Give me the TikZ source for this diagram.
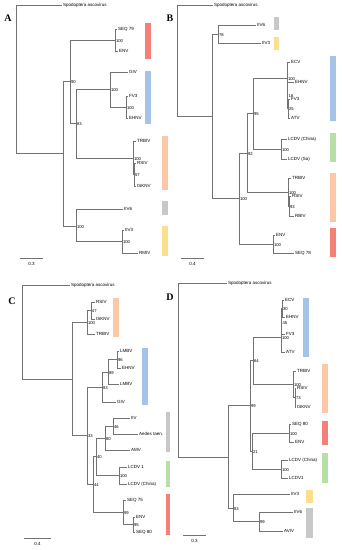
\documentclass[tikz,border=0pt]{standalone}
\usepackage{fontspec}
\setmainfont{Liberation Sans}
\newfontfamily\panelfont{Liberation Serif}
\usetikzlibrary{positioning}
\definecolor{cred}{RGB}{245,128,120}
\definecolor{cblue}{RGB}{165,195,232}
\definecolor{cpeach}{RGB}{252,200,168}
\definecolor{cgrey}{RGB}{200,200,200}
\definecolor{cyel}{RGB}{250,224,140}
\definecolor{cgreen}{RGB}{182,224,165}

\begin{document}
\begin{tikzpicture}[x=1pt,y=-1pt,
  br/.style={draw=black!55,line width=0.55pt},
  leaf/.style={anchor=west,inner sep=1pt,font=\fontsize{4.5}{5}\selectfont},
  bs/.style={anchor=west,inner sep=0.8pt,yshift=-1pt,font=\fontsize{4.2}{5}\selectfont},
  panel/.style={font=\panelfont\bfseries\fontsize{10}{12}\selectfont,inner sep=0pt},
  sc/.style={font=\fontsize{4.5}{5}\selectfont,inner sep=0pt}
]
\useasboundingbox (0,0) rectangle (341,550);

% panel A
\node[panel] (lA) at (8,18) {A};
\coordinate (aR) at (16,79.5);
\coordinate (a1) at (63,153.5);
\coordinate (a2) at (70,81);
\coordinate (a3) at (76,226);
\coordinate (a4) at (115,40);
\coordinate (a5) at (76,123.5);
\coordinate (a6) at (110,89.5);
\coordinate (a7) at (133,158);
\coordinate (a8) at (126,107);
\coordinate (a9) at (134,174.5);
\coordinate (a10) at (122,241.5);
\node[leaf] (aOut) at (62,5) {Spodoptera ascovirus};
\node[leaf] (aSeq) at (117,29) {SEQ 79};
\node[leaf] (aEnv) at (118,51) {ENV};
\node[leaf] (aGiv) at (128,72) {GIV};
\node[leaf] (aFv) at (128,96) {FV3};
\node[leaf] (aEhnv) at (128,118) {EHNV};
\node[leaf] (aTrbiv) at (136,141) {TRBIV};
\node[leaf] (aRsiv) at (136,163) {RSIV};
\node[leaf] (aIsknv) at (136,186) {ISKNV};
\node[leaf] (aIiv6) at (123,209) {IIV6};
\node[leaf] (aIiv3) at (124,230) {IIV3};
\node[leaf] (aRmiv) at (138,253) {RMIV};
\draw[br] (aR) |- (aOut.west) (aR) |- (a1)
  (a1) |- (a2) (a1) |- (a3)
  (a2) |- (a4) (a2) |- (a5)
  (a4) |- (aSeq.west) (a4) |- (aEnv.west)
  (a5) |- (a6) (a5) |- (a7)
  (a6) |- (aGiv.west) (a6) |- (a8)
  (a8) |- (aFv.west) (a8) |- (aEhnv.west)
  (a7) |- (aTrbiv.west) (a7) |- (a9)
  (a9) |- (aRsiv.west) (a9) |- (aIsknv.west)
  (a3) |- (aIiv6.west) (a3) |- (a10)
  (a10) |- (aIiv3.west) (a10) |- (aRmiv.west);
\node[bs] (a2v) at (a2) {90};
\node[bs] (a4v) at (a4) {100};
\node[bs] (a5v) at (a5) {83};
\node[bs] (a6v) at (a6) {100};
\node[bs] (a8v) at (a8) {100};
\node[bs] (a7v) at (a7) {100};
\node[bs] (a9v) at (a9) {57};
\node[bs] (a3v) at (a3) {100};
\node[bs] (a10v) at (a10) {100};
\fill[cred] (145,23) rectangle (151,59);
\fill[cblue] (145,71) rectangle (151,124);
\fill[cpeach] (162,136) rectangle (168,190);
\fill[cgrey] (162,201) rectangle (168,215);
\fill[cyel] (162,226) rectangle (168,256);
\coordinate (sA1) at (20,258);
\coordinate (sA2) at (43,258);
\draw[br] (sA1) -- (sA2);
\node[sc] (sAl) at (31.5,264) {0.3};

% panel B
\node[panel] (lB) at (170,18) {B};
\coordinate (bR) at (177,60.5);
\coordinate (b1) at (212,116);
\coordinate (b2) at (218,34);
\coordinate (b3) at (239,198.5);
\coordinate (b4) at (247,153);
\coordinate (b5) at (273,244);
\coordinate (b6) at (253,113.5);
\coordinate (b7) at (288,192);
\coordinate (b8) at (287,78);
\coordinate (b9) at (287.5,95);
\coordinate (b10) at (288,108.5);
\coordinate (b11) at (281,149);
\coordinate (b12) at (289,206);
\node[leaf] (bOut) at (213,5) {Spodoptera ascovirus};
\node[leaf] (bIiv6) at (256,25) {IIV6};
\node[leaf] (bIiv3) at (261,43) {IIV3};
\node[leaf] (bEcv) at (290,62) {ECV};
\node[leaf] (bEhnv) at (294,82) {EHNV};
\node[leaf] (bFv) at (290,99) {FV3};
\node[leaf] (bAtv) at (290,118) {ATV};
\node[leaf] (bLc) at (287,139) {LCDV (China)};
\node[leaf] (bLs) at (287,159) {LCDV (Sa)};
\node[leaf] (bTrbiv) at (291,178) {TRBIV};
\node[leaf] (bRsiv) at (291,196) {RSIV};
\node[leaf] (bRbiv) at (294,216) {RBIV};
\node[leaf] (bEnv) at (275,235) {ENV};
\node[leaf] (bSeq) at (294,253) {SEQ 78};
\draw[br] (bR) |- (bOut.west) (bR) |- (b1)
  (b1) |- (b2) (b1) |- (b3)
  (b2) |- (bIiv6.west) (b2) |- (bIiv3.west)
  (b3) |- (b4) (b3) |- (b5)
  (b4) |- (b6) (b4) |- (b7)
  (b6) |- (b8) (b6) |- (b11)
  (b8) |- (bEcv.west) (b8) |- (b9)
  (b9) |- (bEhnv.west) (b9) |- (b10)
  (b10) |- (bFv.west) (b10) |- (bAtv.west)
  (b11) |- (bLc.west) (b11) |- (bLs.west)
  (b7) |- (bTrbiv.west) (b7) |- (b12)
  (b12) |- (bRsiv.west) (b12) |- (bRbiv.west)
  (b5) |- (bEnv.west) (b5) |- (bSeq.west);
\node[bs] (b2v) at (b2) {78};
\node[bs] (b3v) at (b3) {100};
\node[bs] (b4v) at (b4) {92};
\node[bs] (b6v) at (b6) {95};
\node[bs] (b8v) at (b8) {100};
\node[bs] (b9v) at (b9) {18};
\node[bs] (b10v) at (b10) {25};
\node[bs] (b11v) at (b11) {100};
\node[bs] (b7v) at (b7) {100};
\node[bs] (b12v) at (b12) {93};
\node[bs] (b5v) at (b5) {100};
\fill[cgrey] (274,17) rectangle (279,30);
\fill[cyel] (274,37) rectangle (279,50);
\fill[cblue] (330,56) rectangle (336,121);
\fill[cgreen] (330,133) rectangle (336,162);
\fill[cpeach] (330,173) rectangle (336,222);
\fill[cred] (330,228) rectangle (336,257);
\coordinate (sB1) at (181,258);
\coordinate (sB2) at (204,258);
\draw[br] (sB1) -- (sB2);
\node[sc] (sBl) at (192.5,264) {0.4};

% panel C
\node[panel] (lC) at (12,301) {C};
\coordinate (cR) at (22,332);
\coordinate (c1) at (72,379);
\coordinate (c2) at (87,322.5);
\coordinate (c3) at (87,435.5);
\coordinate (c4) at (91,310.5);
\coordinate (c5) at (102,387);
\coordinate (c6) at (93,484.5);
\coordinate (c7) at (108,372);
\coordinate (c8) at (117,359.5);
\coordinate (c9) at (96,456.5);
\coordinate (c10) at (123,512);
\coordinate (c11) at (105,438);
\coordinate (c12) at (119,475.5);
\coordinate (c13) at (113,426);
\coordinate (c14) at (133,524.5);
\node[leaf] (cOut) at (70,285) {Spodoptera ascovirus};
\node[leaf] (cRsiv) at (95,302) {RSIV};
\node[leaf] (cIsknv) at (95,319) {ISKNV};
\node[leaf] (cTrbiv) at (95,334) {TRBIV};
\node[leaf] (cLm1) at (119,351) {LMBV};
\node[leaf] (cEhnv) at (121,368) {EHNV};
\node[leaf] (cLm2) at (119,384) {LMBV};
\node[leaf] (cGiv) at (116,402) {GIV};
\node[leaf] (cIiv) at (130,418) {IIV};
\node[leaf] (cAedes) at (138,434) {Aedes taen.};
\node[leaf] (cAmv) at (130,450) {AMV};
\node[leaf] (cL1) at (127,467) {LCDV 1};
\node[leaf] (cLc) at (127,484) {LCDV (China)};
\node[leaf] (cSeq75) at (126,500) {SEQ 75};
\node[leaf] (cEnv) at (135,517) {ENV};
\node[leaf] (cSeq80) at (135,532) {SEQ 80};
\draw[br] (cR) |- (cOut.west) (cR) |- (c1)
  (c1) |- (c2) (c1) |- (c3)
  (c2) |- (c4) (c2) |- (cTrbiv.west)
  (c4) |- (cRsiv.west) (c4) |- (cIsknv.west)
  (c3) |- (c5) (c3) |- (c6)
  (c5) |- (c7) (c5) |- (cGiv.west)
  (c7) |- (c8) (c7) |- (cLm2.west)
  (c8) |- (cLm1.west) (c8) |- (cEhnv.west)
  (c6) |- (c9) (c6) |- (c10)
  (c9) |- (c11) (c9) |- (c12)
  (c11) |- (c13) (c11) |- (cAmv.west)
  (c13) |- (cIiv.west) (c13) |- (cAedes.west)
  (c12) |- (cL1.west) (c12) |- (cLc.west)
  (c10) |- (cSeq75.west) (c10) |- (c14)
  (c14) |- (cEnv.west) (c14) |- (cSeq80.west);
\node[bs] (c2v) at (c2) {100};
\node[bs] (c4v) at (c4) {47};
\node[bs] (c3v) at (c3) {33};
\node[bs] (c5v) at (c5) {83};
\node[bs] (c7v) at (c7) {89};
\node[bs] (c8v) at (c8) {96};
\node[bs] (c6v) at (c6) {44};
\node[bs] (c9v) at (c9) {40};
\node[bs] (c11v) at (c11) {80};
\node[bs] (c13v) at (c13) {46};
\node[bs] (c12v) at (c12) {100};
\node[bs] (c10v) at (c10) {99};
\node[bs] (c14v) at (c14) {95};
\fill[cpeach] (113,298) rectangle (119,337);
\fill[cblue] (142,348) rectangle (148,405);
\fill[cgrey] (166,412) rectangle (170,452);
\fill[cgreen] (166,461) rectangle (170,487);
\fill[cred] (166,494) rectangle (170,535);
\coordinate (sC1) at (24,538);
\coordinate (sC2) at (51,538);
\draw[br] (sC1) -- (sC2);
\node[sc] (sCl) at (37.5,544) {0.4};

% panel D
\node[panel] (lD) at (170,297) {D};
\coordinate (dR) at (178,370);
\coordinate (d1) at (228,457);
\coordinate (d2) at (250,405.5);
\coordinate (d3) at (233,508);
\coordinate (d4) at (253,360.5);
\coordinate (d5) at (252,451);
\coordinate (d6) at (281,337);
\coordinate (d7) at (293,384);
\coordinate (d8) at (281.5,322);
\coordinate (d9) at (282,308.5);
\coordinate (d10) at (295,397.5);
\coordinate (d11) at (289,433);
\coordinate (d12) at (281,469);
\coordinate (d13) at (259,521.5);
\node[leaf] (dOut) at (227,283) {Spodoptera ascovirus};
\node[leaf] (dEcv) at (284,300) {ECV};
\node[leaf] (dEhnv) at (285,317) {EHNV};
\node[leaf] (dFv) at (285,334) {FV3};
\node[leaf] (dAtv) at (285,352) {ATV};
\node[leaf] (dTrbiv) at (296,371) {TRBIV};
\node[leaf] (dRsiv) at (296,388) {RSIV};
\node[leaf] (dIsknv) at (296,407) {ISKNV};
\node[leaf] (dSeq) at (291,424) {SEQ 80};
\node[leaf] (dEnv) at (294,442) {ENV};
\node[leaf] (dLc) at (288,460) {LCDV (China)};
\node[leaf] (dL1) at (288,478) {LCDV1};
\node[leaf] (dIiv3) at (290,494) {IIV3};
\node[leaf] (dIiv6) at (293,512) {IIV6};
\node[leaf] (dAviv) at (283,531) {AVIV};
\draw[br] (dR) |- (dOut.west) (dR) |- (d1)
  (d1) |- (d2) (d1) |- (d3)
  (d2) |- (d4) (d2) |- (d5)
  (d4) |- (d6) (d4) |- (d7)
  (d6) |- (d8) (d6) |- (dAtv.west)
  (d8) |- (d9) (d8) |- (dFv.west)
  (d9) |- (dEcv.west) (d9) |- (dEhnv.west)
  (d7) |- (dTrbiv.west) (d7) |- (d10)
  (d10) |- (dRsiv.west) (d10) |- (dIsknv.west)
  (d5) |- (d11) (d5) |- (d12)
  (d11) |- (dSeq.west) (d11) |- (dEnv.west)
  (d12) |- (dLc.west) (d12) |- (dL1.west)
  (d3) |- (dIiv3.west) (d3) |- (d13)
  (d13) |- (dIiv6.west) (d13) |- (dAviv.west);
\node[bs] (d2v) at (d2) {99};
\node[bs] (d4v) at (d4) {64};
\node[bs] (d6v) at (d6) {100};
\node[bs] (d8v) at (d8) {45};
\node[bs] (d9v) at (d9) {30};
\node[bs] (d7v) at (d7) {100};
\node[bs] (d10v) at (d10) {73};
\node[bs] (d5v) at (d5) {21};
\node[bs] (d11v) at (d11) {100};
\node[bs] (d12v) at (d12) {100};
\node[bs] (d3v) at (d3) {83};
\node[bs] (d13v) at (d13) {99};
\fill[cblue] (303,298) rectangle (309,357);
\fill[cpeach] (322,364) rectangle (328,413);
\fill[cred] (322,421) rectangle (328,445);
\fill[cgreen] (322,453) rectangle (328,483);
\fill[cyel] (306,490) rectangle (313,503);
\fill[cgrey] (306,508) rectangle (313,538);
\coordinate (sD1) at (183,535);
\coordinate (sD2) at (206,535);
\draw[br] (sD1) -- (sD2);
\node[sc] (sDl) at (194.5,541) {0.3};
\end{tikzpicture}
\end{document}
